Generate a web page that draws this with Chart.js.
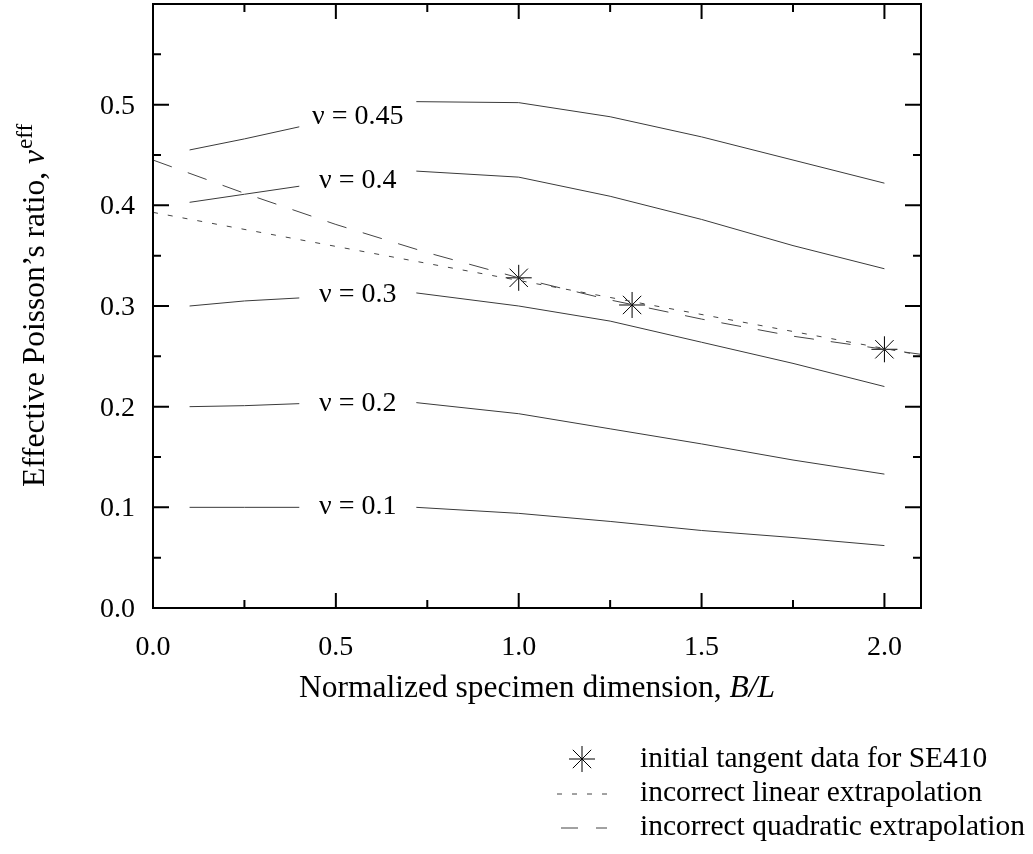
<!DOCTYPE html>
<html>
<head>
<meta charset="utf-8">
<script src="https://cdn.jsdelivr.net/npm/chart.js@4/dist/chart.umd.min.js"></script>
<style>
  html, body { margin: 0; padding: 0; background: #fff; }
  canvas { display: block; }
</style>
</head>
<body>
<canvas id="chart" width="1033" height="854"></canvas>
<script>
// Effective Poisson's ratio vs. normalized specimen dimension B/L

// curve segments: left part (before the label) and right part (after it)
const leftX  = [0.1, 0.25, 0.4];
const rightX = [0.72, 1.0, 1.25, 1.5, 1.75, 2.0];

const nu045Left  = [0.455, 0.466, 0.478];
const nu045Right = [0.503, 0.502, 0.488, 0.468, 0.445, 0.422];
const nu040Left  = [0.403, 0.411, 0.419];
const nu040Right = [0.434, 0.428, 0.409, 0.386, 0.360, 0.337];
const nu030Left  = [0.300, 0.305, 0.308];
const nu030Right = [0.313, 0.300, 0.285, 0.264, 0.243, 0.220];
const nu020Left  = [0.200, 0.201, 0.203];
const nu020Right = [0.204, 0.193, 0.178, 0.163, 0.147, 0.133];
const nu010Left  = [0.100, 0.100, 0.100];
const nu010Right = [0.100, 0.094, 0.086, 0.077, 0.070, 0.062];

// curve labels and where they sit
const curveLabels = ['ν = 0.45', 'ν = 0.4', 'ν = 0.3', 'ν = 0.2', 'ν = 0.1'];
const labelX = 0.56;
const labelY = [0.488, 0.425, 0.311, 0.203, 0.101];

// measured data for SE410
const se410X = [1.0, 1.31, 2.0];
const se410Y = [0.328, 0.301, 0.257];

// extrapolations
const linearX = [0.0, 2.1];
const linearY = [0.393, 0.251];
const quadX = [0.0, 0.25, 0.5, 0.75, 1.0, 1.25, 1.5, 1.75, 2.0, 2.1];
const quadY = [0.445, 0.412, 0.381, 0.353, 0.328, 0.306, 0.287, 0.270, 0.257, 0.252];

// axis ticks
const xTickValues = [0, 0.5, 1.0, 1.5, 2.0];
const xTickLabels = ['0.0', '0.5', '1.0', '1.5', '2.0'];
const xMinorTicks = [0.25, 0.75, 1.25, 1.75];
const yTickValues = [0, 0.1, 0.2, 0.3, 0.4, 0.5];
const yTickLabels = ['0.0', '0.1', '0.2', '0.3', '0.4', '0.5'];
const yMinorTicks = [0.05, 0.15, 0.25, 0.35, 0.45, 0.55];

const legendLabels = [
  'initial tangent data for SE410',
  'incorrect linear extrapolation',
  'incorrect quadratic extrapolation'
];

const SERIF = '"Liberation Serif", "Times New Roman", serif';
const zip = (xs, ys) => xs.map((x, i) => ({ x, y: ys[i] }));

const curveColor = '#3a3a3a';
function curve(xs, ys) {
  return { data: zip(xs, ys), borderColor: curveColor, borderWidth: 1, pointRadius: 0, tension: 0 };
}

const LIN_DASH = [5, 10];
const QUAD_DASH = [20, 17];

const datasets = [
  curve(leftX, nu045Left), curve(rightX, nu045Right),
  curve(leftX, nu040Left), curve(rightX, nu040Right),
  curve(leftX, nu030Left), curve(rightX, nu030Right),
  curve(leftX, nu020Left), curve(rightX, nu020Right),
  curve(leftX, nu010Left), curve(rightX, nu010Right),
  { data: zip(linearX, linearY), borderColor: '#444', borderWidth: 1, borderDash: LIN_DASH, pointRadius: 0 },
  { data: zip(quadX, quadY), borderColor: '#444', borderWidth: 1, borderDash: QUAD_DASH, pointRadius: 0, tension: 0 },
  { data: zip(se410X, se410Y), showLine: false, pointStyle: 'star', pointRadius: 13,
    pointBorderColor: '#000', pointBorderWidth: 1, pointBackgroundColor: '#000', borderColor: '#000' }
];

function drawStar(ctx, x, y, r) {
  ctx.beginPath();
  for (let k = 0; k < 4; k++) {
    const a = k * Math.PI / 4;
    ctx.moveTo(x - r * Math.cos(a), y - r * Math.sin(a));
    ctx.lineTo(x + r * Math.cos(a), y + r * Math.sin(a));
  }
  ctx.stroke();
}

// frame, inward ticks, labels, titles and legend
const framePlugin = {
  id: 'frame',
  afterDraw(chart) {
    const { ctx, chartArea: a, scales: { x, y } } = chart;
    ctx.save();
    ctx.strokeStyle = '#000';
    ctx.fillStyle = '#000';
    ctx.lineWidth = 2;
    ctx.strokeRect(a.left, a.top, a.right - a.left, a.bottom - a.top);

    ctx.beginPath();
    const tickX = (v, len) => {
      const px = x.getPixelForValue(v);
      ctx.moveTo(px, a.bottom); ctx.lineTo(px, a.bottom - len);
      ctx.moveTo(px, a.top); ctx.lineTo(px, a.top + len);
    };
    const tickY = (v, len) => {
      const py = y.getPixelForValue(v);
      ctx.moveTo(a.left, py); ctx.lineTo(a.left + len, py);
      ctx.moveTo(a.right, py); ctx.lineTo(a.right - len, py);
    };
    xTickValues.forEach(v => tickX(v, 15));
    xMinorTicks.forEach(v => tickX(v, 8));
    yTickValues.forEach(v => tickY(v, 16));
    yMinorTicks.forEach(v => tickY(v, 8));
    ctx.stroke();

    // tick labels
    ctx.font = '28px ' + SERIF;
    ctx.textBaseline = 'alphabetic';
    ctx.textAlign = 'center';
    xTickValues.forEach((v, i) => ctx.fillText(xTickLabels[i], x.getPixelForValue(v), 655));
    ctx.textAlign = 'right';
    yTickValues.forEach((v, i) => ctx.fillText(yTickLabels[i], 135, y.getPixelForValue(v) + 9));

    // curve labels
    ctx.textAlign = 'center';
    ctx.textBaseline = 'middle';
    curveLabels.forEach((t, i) => ctx.fillText(t, x.getPixelForValue(labelX), y.getPixelForValue(labelY[i])));

    // x title
    ctx.textBaseline = 'alphabetic';
    ctx.textAlign = 'left';
    const TF = 31.5;
    const xt1 = 'Normalized specimen dimension, ';
    const xt2 = 'B/L';
    ctx.font = TF + 'px ' + SERIF;
    const w1 = ctx.measureText(xt1).width;
    ctx.font = 'italic ' + TF + 'px ' + SERIF;
    const w2 = ctx.measureText(xt2).width;
    const cx = (a.left + a.right) / 2;
    const sx = cx - (w1 + w2) / 2;
    ctx.font = TF + 'px ' + SERIF;
    ctx.fillText(xt1, sx, 697);
    ctx.font = 'italic ' + TF + 'px ' + SERIF;
    ctx.fillText(xt2, sx + w1, 697);

    // y title (rotated)
    const yt1 = 'Effective Poisson\u2019s ratio, ';
    const yt2 = '\u03bd';
    const yt3 = 'eff';
    ctx.font = TF + 'px ' + SERIF;
    const v1 = ctx.measureText(yt1).width;
    ctx.font = 'italic ' + TF + 'px ' + SERIF;
    const v2 = ctx.measureText(yt2).width;
    ctx.font = '23px ' + SERIF;
    const v3 = ctx.measureText(yt3).width;
    ctx.save();
    ctx.translate(44, (a.top + a.bottom) / 2);
    ctx.rotate(-Math.PI / 2);
    const p = -(v1 + v2 + v3) / 2;
    ctx.font = TF + 'px ' + SERIF;
    ctx.fillText(yt1, p, 0);
    ctx.font = 'italic ' + TF + 'px ' + SERIF;
    ctx.fillText(yt2, p + v1, 0);
    ctx.font = '23px ' + SERIF;
    ctx.fillText(yt3, p + v1 + v2 + 1, -12);
    ctx.restore();

    // legend
    const rows = [767, 801, 835];
    const symL = 557, symR = 607, textX = 640;
    ctx.font = '29.5px ' + SERIF;
    ctx.textAlign = 'left';
    legendLabels.forEach((t, i) => ctx.fillText(t, textX, rows[i]));
    ctx.lineWidth = 1;
    ctx.strokeStyle = '#000';
    drawStar(ctx, 582, rows[0] - 8, 13);
    ctx.strokeStyle = '#444';
    ctx.setLineDash(LIN_DASH);
    ctx.beginPath(); ctx.moveTo(symL, rows[1] - 7); ctx.lineTo(symR, rows[1] - 7); ctx.stroke();
    ctx.setLineDash([17, 18]);
    ctx.beginPath(); ctx.moveTo(symL + 4, rows[2] - 7); ctx.lineTo(symR, rows[2] - 7); ctx.stroke();
    ctx.setLineDash([]);
    ctx.restore();
  }
};

new Chart(document.getElementById('chart').getContext('2d'), {
  type: 'line',
  data: { datasets },
  options: {
    responsive: false,
    animation: false,
    devicePixelRatio: 1,
    layout: { autoPadding: false, padding: { left: 153, right: 112, top: 4, bottom: 246 } },
    plugins: { legend: { display: false }, tooltip: { enabled: false } },
    scales: {
      x: { type: 'linear', min: 0, max: 2.1, display: false },
      y: { type: 'linear', min: 0, max: 0.6, display: false }
    }
  },
  plugins: [framePlugin]
});
</script>
</body>
</html>
